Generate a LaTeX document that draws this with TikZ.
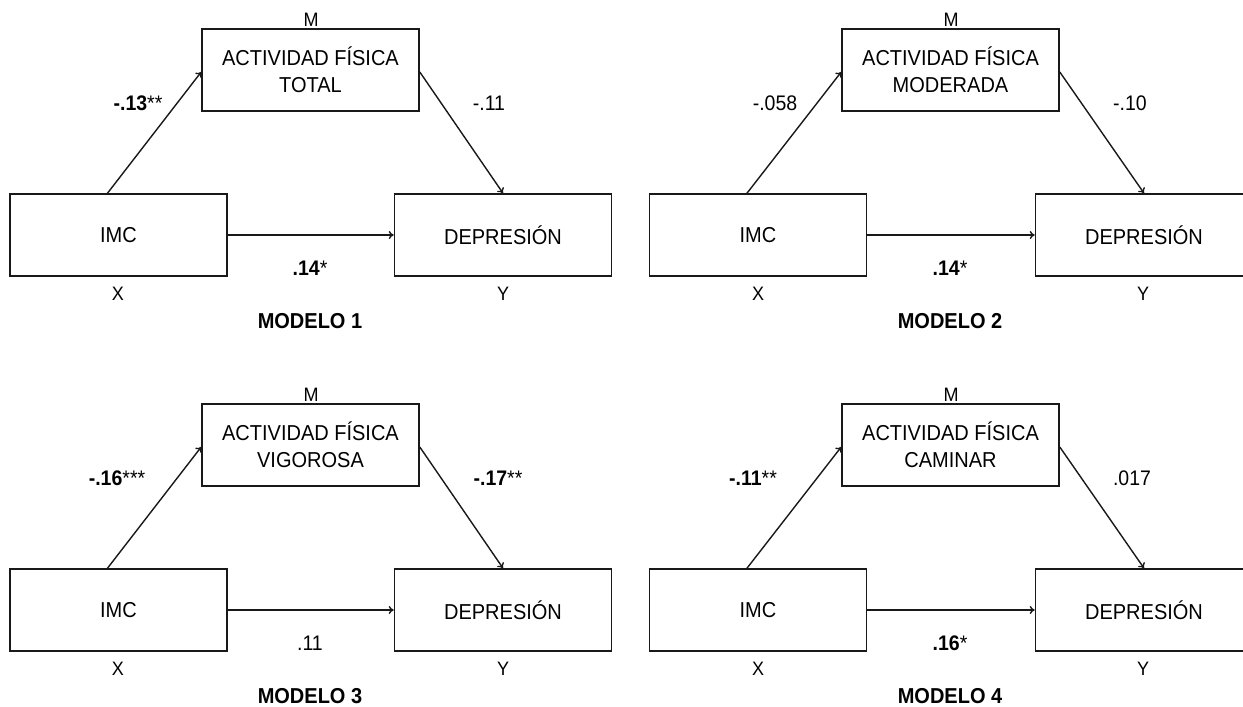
\documentclass[tikz,border=0pt]{standalone}
\usepackage{fontspec}
\setmainfont{Liberation Sans}
\usetikzlibrary{arrows.meta}
\newcommand{\vst}[1]{\scalebox{1}[1.08]{#1}}
\newcommand{\twol}[2]{\raisebox{-3.5pt}[\height][\depth]{\vst{\begin{tabular}{@{}c@{}}#1\\#2\end{tabular}}}}
\begin{document}
\begin{tikzpicture}[x=1pt,y=-1pt,
  box/.style={draw=black!90,line width=1.6pt,rectangle,minimum width=217pt,minimum height=82pt,inner sep=0pt,align=center,font=\fontsize{20}{25}\selectfont},
  tag/.style={inner sep=0pt,font=\fontsize{18}{20}\selectfont},
  coef/.style={inner sep=0pt,font=\fontsize{19.5}{22}\selectfont},
  title/.style={inner sep=0pt,font=\fontsize{20}{22}\selectfont\bfseries},
  conn/.style={draw=black!90,line width=1.4pt,-{To[length=5pt,width=8pt]}}]
\useasboundingbox (0,0) rectangle (1243,707);
\fill[white] (0,0) rectangle (1243,707);
% ---------- Modelo 1 ----------
\node[box] (m1) at (310.5,70) {\twol{ACTIVIDAD FÍSICA}{TOTAL}};
\node[box] (x1) at (118.5,235) {\vst{IMC}};
\node[box] (y1) at (503,235) {\vst{DEPRESIÓN}};
\node[tag] (lm1) at (311,20) {\vst{M}};
\node[tag] (lx1) at (118,294) {\vst{X}};
\node[tag] (ly1) at (503,294) {\vst{Y}};
\draw[conn] ([xshift=-11pt]x1.north) -- ([yshift=-2pt]m1.west);
\draw[conn] ([yshift=-2pt]m1.east) -- (y1.north);
\draw[conn] (x1.east) -- (y1.west);
\node[coef] (a1) at (138,103) {\vst{\textbf{-.13}**}};
\node[coef] (b1) at (489,103) {\vst{-.11}};
\node[coef] (c1) at (310,268) {\vst{\textbf{.14}*}};
\node[title] (t1) at (310,321) {\vst{MODELO 1}};
% ---------- Modelo 2 ----------
\node[box] (m2) at (950.5,70) {\twol{ACTIVIDAD FÍSICA}{MODERADA}};
\node[box] (x2) at (758,235) {\vst{IMC}};
\node[box] (y2) at (1144,235) {\vst{DEPRESIÓN}};
\node[tag] (lm2) at (951,20) {\vst{M}};
\node[tag] (lx2) at (758,294) {\vst{X}};
\node[tag] (ly2) at (1143,294) {\vst{Y}};
\draw[conn] ([xshift=-11pt]x2.north) -- ([yshift=-2pt]m2.west);
\draw[conn] ([yshift=-2pt]m2.east) -- (y2.north);
\draw[conn] (x2.east) -- (y2.west);
\node[coef] (a2) at (775,103) {\vst{-.058}};
\node[coef] (b2) at (1130,103) {\vst{-.10}};
\node[coef] (c2) at (950,268) {\vst{\textbf{.14}*}};
\node[title] (t2) at (950,321) {\vst{MODELO 2}};
% ---------- Modelo 3 ----------
\node[box] (m3) at (310.5,445) {\twol{ACTIVIDAD FÍSICA}{VIGOROSA}};
\node[box] (x3) at (118.5,610) {\vst{IMC}};
\node[box] (y3) at (503,610) {\vst{DEPRESIÓN}};
\node[tag] (lm3) at (311,395) {\vst{M}};
\node[tag] (lx3) at (118,669) {\vst{X}};
\node[tag] (ly3) at (503,669) {\vst{Y}};
\draw[conn] ([xshift=-11pt]x3.north) -- ([yshift=-2pt]m3.west);
\draw[conn] ([yshift=-2pt]m3.east) -- (y3.north);
\draw[conn] (x3.east) -- (y3.west);
\node[coef] (a3) at (117,478) {\vst{\textbf{-.16}***}};
\node[coef] (b3) at (498,478) {\vst{\textbf{-.17}**}};
\node[coef] (c3) at (310,643) {\vst{.11}};
\node[title] (t3) at (310,696) {\vst{MODELO 3}};
% ---------- Modelo 4 ----------
\node[box] (m4) at (950.5,445) {\twol{ACTIVIDAD FÍSICA}{CAMINAR}};
\node[box] (x4) at (758,610) {\vst{IMC}};
\node[box] (y4) at (1144,610) {\vst{DEPRESIÓN}};
\node[tag] (lm4) at (951,395) {\vst{M}};
\node[tag] (lx4) at (758,669) {\vst{X}};
\node[tag] (ly4) at (1143,669) {\vst{Y}};
\draw[conn] ([xshift=-11pt]x4.north) -- ([yshift=-2pt]m4.west);
\draw[conn] ([yshift=-2pt]m4.east) -- (y4.north);
\draw[conn] (x4.east) -- (y4.west);
\node[coef] (a4) at (753,478) {\vst{\textbf{-.11}**}};
\node[coef] (b4) at (1132,478) {\vst{.017}};
\node[coef] (c4) at (950,643) {\vst{\textbf{.16}*}};
\node[title] (t4) at (950,696) {\vst{MODELO 4}};
\end{tikzpicture}
\end{document}
